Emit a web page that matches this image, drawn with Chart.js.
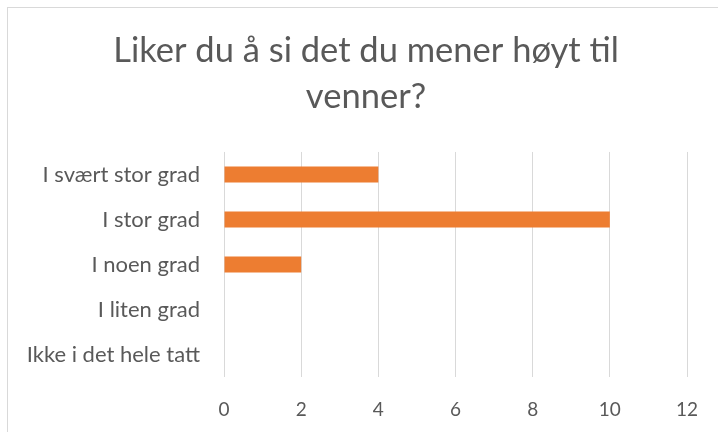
<!DOCTYPE html>
<html>
<head>
<meta charset="utf-8">
<script src="https://cdn.jsdelivr.net/npm/chart.js@4"></script>
<style>
    body { margin: 0; background: #fff; overflow: hidden; }
    .frame { position: absolute; left: 7px; top: 7px; width: 730px; height: 440px; border: 1px solid #d9d9d9; box-sizing: border-box; }
    #chart { position: absolute; left: 0; top: 0; }
</style>
</head>
<body>
<div class="frame"></div>
<canvas id="chart" width="718" height="432"></canvas>
<script>
// Data
const titleLines = ["Liker du å si det du mener høyt til", "venner?"];
const categories = ["I svært stor grad", "I stor grad", "I noen grad", "I liten grad", "Ikke i det hele tatt"];
const answers = [4, 10, 2, 0, 0];
const xTicks = [0, 2, 4, 6, 8, 10, 12];

const colorText = "#595959";
const colorGrid = "#d9d9d9";
const colorBar = "#ED7D31";

new Chart(document.getElementById("chart"), {
    type: "bar",
    data: {
        labels: categories,
        datasets: [
            {
                data: answers,
                backgroundColor: colorBar,
                barThickness: 16,
                inflateAmount: 0,
            }
        ]
    },
    options: {
        indexAxis: "y",
        responsive: false,
        animation: false,
        layout: {
            padding: { left: 14, right: 0, top: 0, bottom: 0 }
        },
        plugins: {
            legend: { display: false },
            tooltip: { enabled: false },
            title: {
                display: true,
                text: titleLines,
                color: colorText,
                font: { family: "Lato", size: 34.5, weight: "normal", lineHeight: 1.333 },
                padding: { top: 28, bottom: 32 }
            }
        },
        scales: {
            x: {
                min: xTicks[0],
                max: xTicks[xTicks.length - 1],
                afterBuildTicks: (scale) => {
                    scale.ticks = xTicks.map((v) => ({ value: v }));
                },
                afterFit: (scale) => {
                    scale.height = 55;
                    scale.paddingRight = 31;
                },
                grid: { color: colorGrid, lineWidth: 1, drawTicks: false },
                border: { display: false },
                ticks: {
                    color: colorText,
                    font: { family: "Lato", size: 19 },
                    padding: 21
                }
            },
            y: {
                afterFit: (scale) => {
                    scale.width = 210;
                },
                grid: { display: false, drawTicks: false },
                border: { display: false },
                ticks: {
                    color: colorText,
                    font: { family: "Lato", size: 22 },
                    padding: 24
                }
            }
        }
    }
});
</script>
</body>
</html>
